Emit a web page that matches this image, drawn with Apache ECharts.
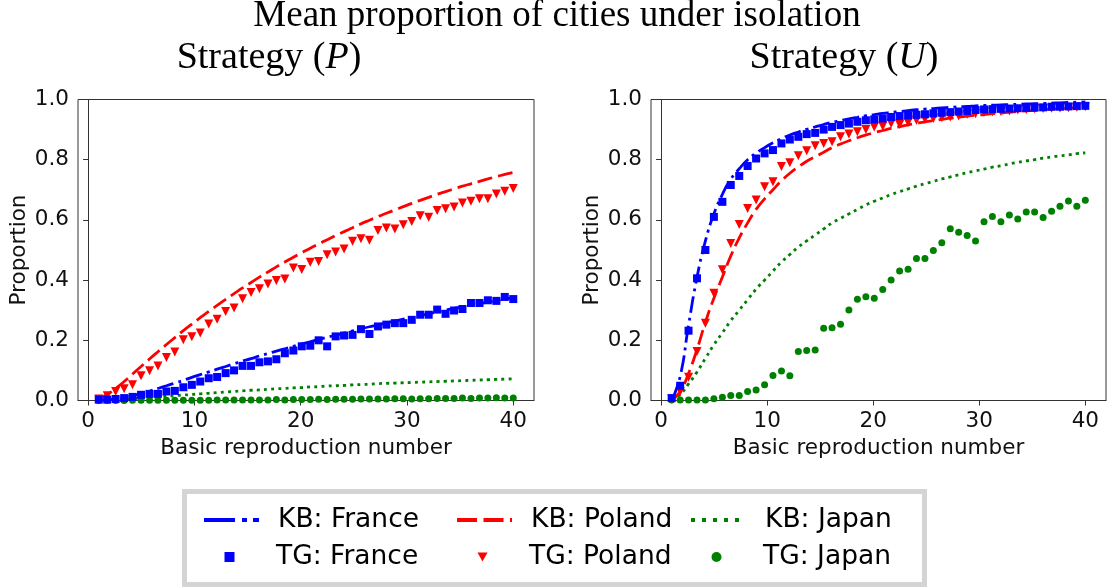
<!DOCTYPE html>
<html>
<head>
<meta charset="utf-8">
<script src="https://cdn.jsdelivr.net/npm/echarts@6/dist/echarts.min.js"></script>
<style>
  html, body { margin: 0; padding: 0; background: #fff; }
  #chart { width: 1109px; height: 588px; }
</style>
</head>
<body>
<div id="chart"></div>
<script>
// basic reproduction number, 50 points from 1 to 40
var xs = [1.00, 1.80, 2.59, 3.39, 4.18, 4.98, 5.78, 6.57, 7.37, 8.16,
  8.96, 9.76, 10.55, 11.35, 12.14, 12.94, 13.73, 14.53, 15.33, 16.12,
  16.92, 17.71, 18.51, 19.31, 20.10, 20.90, 21.69, 22.49, 23.29, 24.08,
  24.88, 25.67, 26.47, 27.27, 28.06, 28.86, 29.65, 30.45, 31.24, 32.04,
  32.84, 33.63, 34.43, 35.22, 36.02, 36.82, 37.61, 38.41, 39.20, 40.00];

var xTicks = [0, 10, 20, 30, 40];

// Strategy (P)
var kbFranceP = [0.0, 0.002, 0.005, 0.01, 0.016, 0.023, 0.031, 0.04, 0.049, 0.058,
  0.067, 0.077, 0.086, 0.095, 0.104, 0.113, 0.122, 0.131, 0.139, 0.148,
  0.156, 0.164, 0.172, 0.18, 0.188, 0.195, 0.203, 0.21, 0.217, 0.224,
  0.231, 0.238, 0.245, 0.251, 0.258, 0.264, 0.27, 0.276, 0.282, 0.288,
  0.294, 0.3, 0.306, 0.311, 0.317, 0.322, 0.327, 0.332, 0.337, 0.342];
var tgFranceP = [0.003, 0.003, 0.005, 0.008, 0.012, 0.019, 0.022, 0.022, 0.03, 0.032,
  0.044, 0.052, 0.063, 0.074, 0.078, 0.091, 0.10, 0.115, 0.115, 0.127,
  0.13, 0.137, 0.157, 0.166, 0.18, 0.182, 0.20, 0.18, 0.213, 0.216,
  0.218, 0.237, 0.221, 0.246, 0.252, 0.257, 0.257, 0.268, 0.285, 0.285,
  0.302, 0.288, 0.299, 0.304, 0.324, 0.324, 0.333, 0.331, 0.344, 0.337];
var kbPolandP = [0.005, 0.02, 0.04, 0.063, 0.088, 0.113, 0.138, 0.162, 0.186, 0.209,
  0.232, 0.254, 0.275, 0.296, 0.316, 0.336, 0.355, 0.374, 0.392, 0.41,
  0.427, 0.444, 0.46, 0.476, 0.491, 0.506, 0.52, 0.534, 0.548, 0.561,
  0.574, 0.587, 0.599, 0.611, 0.622, 0.633, 0.644, 0.655, 0.665, 0.675,
  0.685, 0.694, 0.703, 0.712, 0.72, 0.728, 0.736, 0.744, 0.751, 0.758];
var tgPolandP = [0.005, 0.016, 0.03, 0.039, 0.052, 0.082, 0.099, 0.115, 0.143, 0.161,
  0.202, 0.212, 0.224, 0.254, 0.27, 0.296, 0.307, 0.338, 0.359, 0.371,
  0.387, 0.399, 0.404, 0.44, 0.435, 0.459, 0.462, 0.484, 0.493, 0.503,
  0.529, 0.537, 0.532, 0.565, 0.573, 0.57, 0.584, 0.595, 0.614, 0.609,
  0.631, 0.637, 0.643, 0.656, 0.662, 0.67, 0.67, 0.686, 0.695, 0.704];
var kbJapanP = [0.0, 0.001, 0.002, 0.004, 0.006, 0.008, 0.01, 0.012, 0.014, 0.016,
  0.018, 0.02, 0.022, 0.024, 0.026, 0.028, 0.03, 0.032, 0.034, 0.035,
  0.037, 0.039, 0.04, 0.042, 0.043, 0.045, 0.046, 0.048, 0.049, 0.05,
  0.052, 0.053, 0.054, 0.056, 0.057, 0.058, 0.059, 0.06, 0.061, 0.062,
  0.063, 0.064, 0.065, 0.066, 0.067, 0.068, 0.069, 0.07, 0.071, 0.072];
var tgJapanP = [0.0, 0.0, 0.0, 0.0, 0.001, 0.001, 0.001, 0.001, 0.001, 0.001,
  0.001, 0.001, 0.001, 0.001, 0.002, 0.002, 0.002, 0.002, 0.002, 0.002,
  0.002, 0.003, 0.002, 0.003, 0.003, 0.003, 0.004, 0.003, 0.004, 0.004,
  0.004, 0.005, 0.005, 0.005, 0.005, 0.006, 0.006, 0.005, 0.006, 0.006,
  0.007, 0.007, 0.007, 0.008, 0.007, 0.008, 0.008, 0.009, 0.008, 0.008];

// Strategy (U)
var kbFranceU = [0.0, 0.08, 0.25, 0.41, 0.53, 0.62, 0.685, 0.735, 0.77, 0.80,
  0.822, 0.84, 0.856, 0.87, 0.882, 0.892, 0.901, 0.909, 0.917, 0.924,
  0.93, 0.936, 0.941, 0.946, 0.95, 0.954, 0.957, 0.96, 0.963, 0.966,
  0.968, 0.97, 0.972, 0.974, 0.976, 0.977, 0.979, 0.98, 0.981, 0.982,
  0.983, 0.984, 0.985, 0.986, 0.987, 0.988, 0.989, 0.99, 0.991, 0.992];
var tgFranceU = [0.008, 0.049, 0.232, 0.406, 0.50, 0.61, 0.66, 0.716, 0.746, 0.779,
  0.804, 0.821, 0.832, 0.854, 0.867, 0.876, 0.885, 0.889, 0.90, 0.909,
  0.915, 0.92, 0.926, 0.931, 0.934, 0.937, 0.942, 0.945, 0.947, 0.949,
  0.951, 0.954, 0.956, 0.958, 0.96, 0.962, 0.965, 0.967, 0.968, 0.969,
  0.97, 0.971, 0.972, 0.973, 0.974, 0.976, 0.976, 0.977, 0.978, 0.979];
var kbPolandU = [0.0, 0.03, 0.09, 0.17, 0.26, 0.34, 0.41, 0.48, 0.54, 0.59,
  0.635, 0.67, 0.70, 0.73, 0.755, 0.776, 0.795, 0.81, 0.825, 0.84,
  0.852, 0.863, 0.873, 0.882, 0.89, 0.897, 0.904, 0.91, 0.916, 0.921,
  0.926, 0.93, 0.934, 0.938, 0.941, 0.945, 0.948, 0.95, 0.953, 0.955,
  0.958, 0.96, 0.962, 0.964, 0.966, 0.968, 0.97, 0.971, 0.973, 0.974];
var tgPolandU = [0.005, 0.03, 0.077, 0.163, 0.257, 0.356, 0.434, 0.522, 0.585, 0.638,
  0.666, 0.71, 0.727, 0.777, 0.79, 0.813, 0.83, 0.846, 0.854, 0.86,
  0.876, 0.885, 0.893, 0.90, 0.909, 0.911, 0.92, 0.917, 0.924, 0.931,
  0.934, 0.937, 0.94, 0.942, 0.945, 0.951, 0.953, 0.958, 0.959, 0.96,
  0.962, 0.965, 0.967, 0.969, 0.97, 0.971, 0.972, 0.973, 0.974, 0.976];
var kbJapanU = [0.0, 0.02, 0.055, 0.095, 0.14, 0.185, 0.225, 0.265, 0.30, 0.335,
  0.37, 0.40, 0.43, 0.46, 0.485, 0.51, 0.53, 0.55, 0.57, 0.59,
  0.605, 0.62, 0.635, 0.65, 0.662, 0.673, 0.684, 0.694, 0.703, 0.712,
  0.72, 0.728, 0.736, 0.743, 0.75, 0.757, 0.763, 0.769, 0.775, 0.78,
  0.786, 0.791, 0.796, 0.80, 0.805, 0.809, 0.813, 0.816, 0.82, 0.823];
var tgJapanU = [0.002, 0.002, 0.002, 0.002, 0.002, 0.006, 0.011, 0.017, 0.017, 0.030,
  0.035, 0.052, 0.083, 0.098, 0.082, 0.163, 0.166, 0.168, 0.240, 0.242,
  0.253, 0.301, 0.336, 0.345, 0.340, 0.369, 0.400, 0.430, 0.436, 0.472,
  0.472, 0.498, 0.524, 0.571, 0.559, 0.548, 0.530, 0.594, 0.611, 0.594,
  0.616, 0.603, 0.626, 0.626, 0.608, 0.629, 0.645, 0.663, 0.645, 0.665];

var BLUE = '#0000ff', RED = '#ff0000', GREEN = '#008000';
var FONT = 'DejaVu Sans';

function pairs(arr) {
  return xs.map(function (x, i) { return [x, arr[i]]; });
}

function kbLine(name, arr, color, dash, idx) {
  return {
    name: name, type: 'line', xAxisIndex: idx, yAxisIndex: idx,
    data: pairs(arr), symbol: 'none', smooth: true,
    lineStyle: { color: color, width: 2.8, type: dash, cap: 'butt' },
    itemStyle: { color: color }, z: 2
  };
}

function tgPoints(name, arr, color, symbol, size, rotate, idx) {
  return {
    name: name, type: 'scatter', xAxisIndex: idx, yAxisIndex: idx,
    data: pairs(arr), symbol: symbol, symbolSize: size, symbolRotate: rotate,
    itemStyle: { color: color, opacity: 1 }, z: 3
  };
}

function panel(idx, d) {
  return [
    kbLine('KB: Japan', d[4], GREEN, [3, 4.2], idx),
    kbLine('KB: Poland', d[2], RED, [15, 6], idx),
    kbLine('KB: France', d[0], BLUE, [17, 5, 3, 5], idx),
    tgPoints('TG: Japan', d[5], GREEN, 'circle', 7, 0, idx),
    tgPoints('TG: Poland', d[3], RED, 'triangle', 9, 180, idx),
    tgPoints('TG: France', d[1], BLUE, 'rect', 8, 0, idx)
  ];
}

var axisTxt = { fontSize: 21.5, fontFamily: FONT, color: '#111' };

function xAxisCfg(idx) {
  return {
    gridIndex: idx, type: 'value', min: -0.95, max: 41.95,
    axisLine: { show: true, lineStyle: { color: '#333', width: 1 } },
    splitLine: { show: false },
    axisTick: { show: true, length: 5, customValues: xTicks, lineStyle: { color: '#333' } },
    axisLabel: Object.assign({ customValues: xTicks, margin: 10 }, axisTxt),
    name: 'Basic reproduction number', nameLocation: 'middle', nameGap: 35,
    nameTextStyle: axisTxt
  };
}

function yAxisCfg(idx) {
  return {
    gridIndex: idx, type: 'value', min: 0, max: 1, interval: 0.2,
    axisLine: { show: true, lineStyle: { color: '#333', width: 1 } },
    splitLine: { show: false },
    axisTick: { show: true, length: 5, lineStyle: { color: '#333' } },
    axisLabel: Object.assign({ margin: 9, formatter: function (v) { return v.toFixed(1); } }, axisTxt),
    name: 'Proportion', nameLocation: 'middle', nameGap: 47,
    nameTextStyle: axisTxt
  };
}

// legend columns: line handle on the first row, marker on the second
var legendCols = [
  { left: 202, kb: 'KB: France', tg: 'TG: France', dash: [31, 7, 5, 6], icon: null },
  { left: 455, kb: 'KB: Poland', tg: 'TG: Poland', dash: [20, 6.5], icon: 'path://M0,0L10,0L5,9Z' },
  { left: 689, kb: 'KB: Japan', tg: 'TG: Japan', dash: [4, 7], icon: null }
];
var legendText = { fontSize: 26.5, fontFamily: FONT, color: '#000' };

var legends = [];
legendCols.forEach(function (c) {
  legends.push({
    orient: 'vertical', left: c.left, top: 506.5, padding: 0,
    itemWidth: 55, itemHeight: 9, selectedMode: false,
    lineStyle: { width: 4, type: c.dash },
    textStyle: Object.assign({ padding: [0, 0, 0, 14] }, legendText),
    data: [{ name: c.kb, itemStyle: { opacity: 0 } }]
  });
  var tgItem = { name: c.tg };
  if (c.icon) tgItem.icon = c.icon;
  legends.push({
    orient: 'vertical', left: c.left + 22.5, top: 543.5, padding: 0,
    itemWidth: 10, itemHeight: 10, selectedMode: false,
    textStyle: Object.assign({ padding: [0, 0, 0, 36.5] }, legendText),
    data: [tgItem]
  });
});

var chart = echarts.init(document.getElementById('chart'), null, { renderer: 'canvas' });

var option = {
  backgroundColor: '#fff',
  animation: false,
  grid: [
    { left: 78, top: 99.5, width: 456, height: 301, show: true, borderColor: '#333', borderWidth: 1, backgroundColor: '#fff' },
    { left: 651, top: 99.5, width: 455, height: 301, show: true, borderColor: '#333', borderWidth: 1, backgroundColor: '#fff' }
  ],
  xAxis: [xAxisCfg(0), xAxisCfg(1)],
  yAxis: [yAxisCfg(0), yAxisCfg(1)],
  legend: legends,
  graphic: [
    {
      type: 'rect', z: -1,
      shape: { x: 184.5, y: 491.5, width: 740, height: 93 },
      style: { fill: '#fff', stroke: '#d4d4d4', lineWidth: 5 }
    },
    {
      type: 'text', x: 557, y: 16,
      style: { text: 'Mean proportion of cities under isolation', font: '37px "Liberation Serif"',
        fill: '#000', textAlign: 'center', textVerticalAlign: 'middle' }
    },
    {
      type: 'text', x: 269, y: 58,
      style: { text: 'Strategy ({i|P})', font: '38px "Liberation Serif"', fill: '#000',
        textAlign: 'center', textVerticalAlign: 'middle',
        rich: { i: { fontStyle: 'italic', fontSize: 38, fontFamily: 'Liberation Serif' } } }
    },
    {
      type: 'text', x: 844, y: 58,
      style: { text: 'Strategy ({i|U})', font: '38px "Liberation Serif"', fill: '#000',
        textAlign: 'center', textVerticalAlign: 'middle',
        rich: { i: { fontStyle: 'italic', fontSize: 38, fontFamily: 'Liberation Serif' } } }
    }
  ],
  series: panel(0, [kbFranceP, tgFranceP, kbPolandP, tgPolandP, kbJapanP, tgJapanP])
    .concat(panel(1, [kbFranceU, tgFranceU, kbPolandU, tgPolandU, kbJapanU, tgJapanU]))
};

chart.setOption(option);
</script>
</body>
</html>
